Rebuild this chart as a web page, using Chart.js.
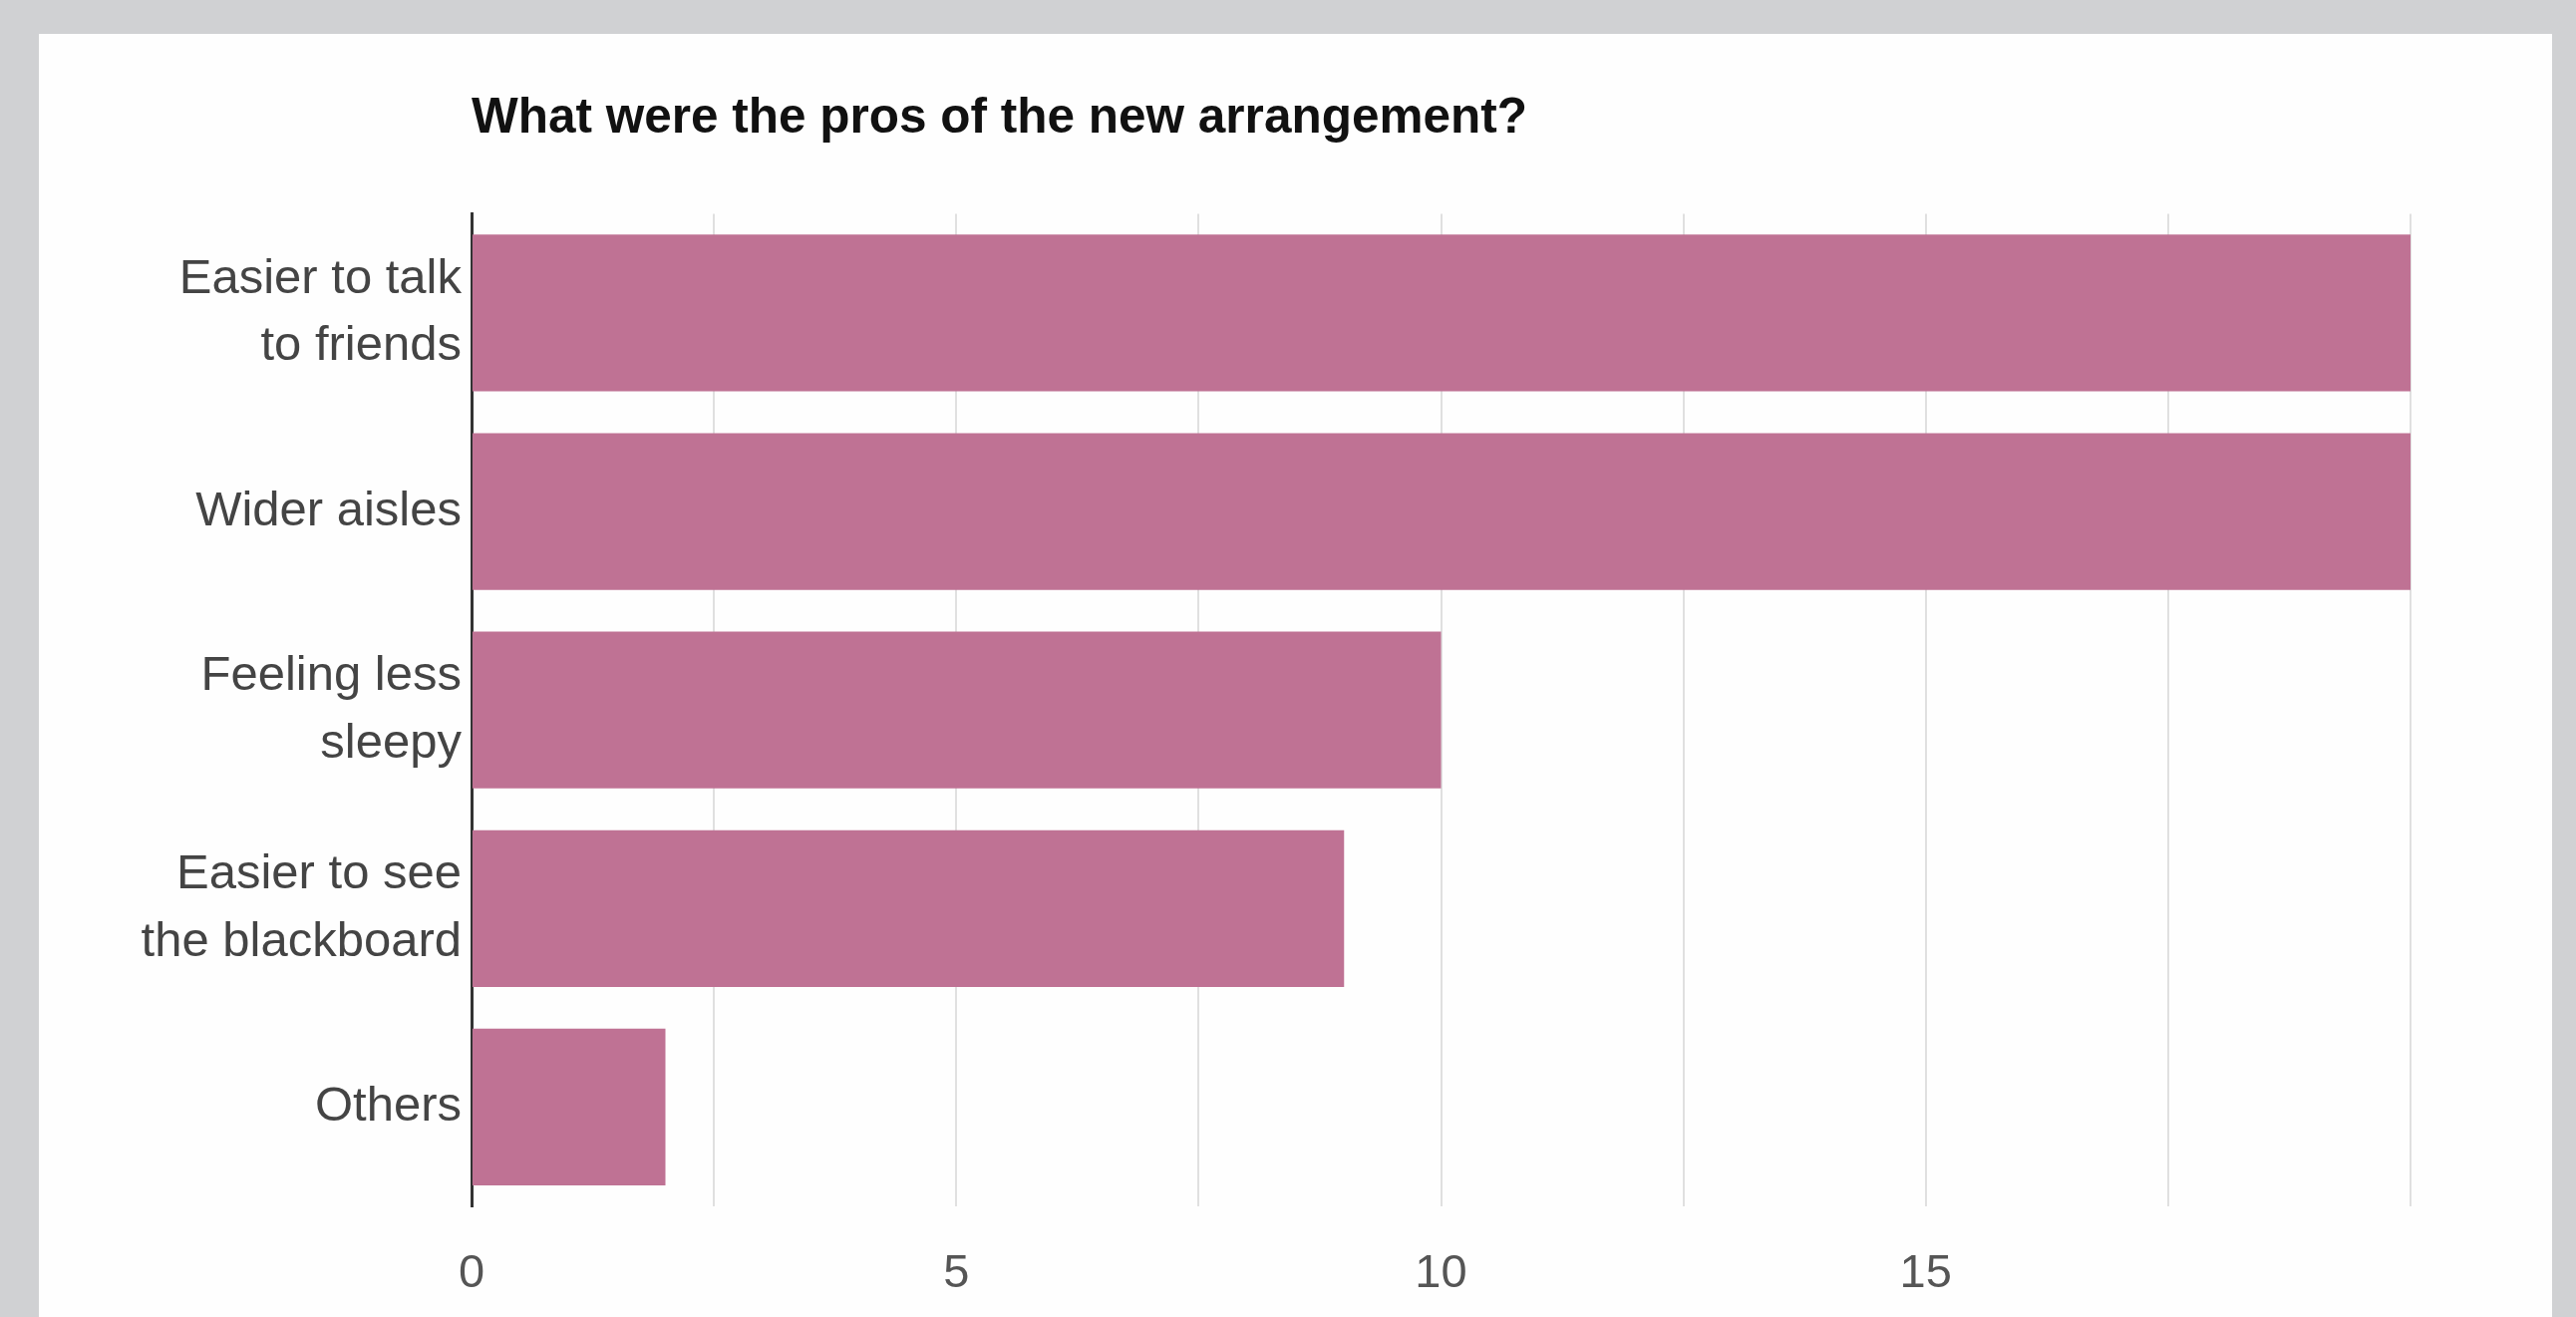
<!DOCTYPE html>
<html>
<head>
<meta charset="utf-8">
<title>Pros of the new arrangement</title>
<script src="https://cdn.jsdelivr.net/npm/chart.js@4/dist/chart.umd.min.js"></script>
<style>
    html, body {
        margin: 0;
        padding: 0;
        width: 2584px;
        height: 1321px;
        overflow: hidden;
        background: #d0d1d3;
    }
    .card {
        position: absolute;
        left: 39px;
        top: 34px;
        width: 2521px;
        height: 1287px;
        background: #fefefe;
    }
    #pros-chart {
        position: absolute;
        left: 0;
        top: 0;
    }
</style>
</head>
<body>
<div class="card"></div>
<canvas id="pros-chart" width="2584" height="1321"></canvas>

<script>
const chartTitle = "What were the pros of the new arrangement?";
const categories = [
    ["Easier to talk", "to friends"],
    "Wider aisles",
    ["Feeling less", "sleepy"],
    ["Easier to see", "the blackboard"],
    "Others"
];
const answerCounts = [20, 20, 10, 9, 2];
const labeledTicks = [0, 5, 10, 15];

const FONT = "'Liberation Sans', Arial, Helvetica, sans-serif";
const BAR_COLOR = "#bf7294";

const ctx = document.getElementById("pros-chart");

new Chart(ctx, {
    type: "bar",
    data: {
        labels: categories,
        datasets: [{
            data: answerCounts,
            backgroundColor: BAR_COLOR,
            borderWidth: 0,
            barPercentage: 0.79,
            categoryPercentage: 1.0
        }]
    },
    options: {
        indexAxis: "y",
        responsive: false,
        animation: false,
        layout: {
            padding: {left: 0, right: 166, top: 0, bottom: 0}
        },
        plugins: {
            legend: {display: false},
            tooltip: {enabled: false},
            title: {
                display: true,
                text: chartTitle,
                align: "start",
                fullSize: false,
                color: "#111111",
                font: {family: FONT, size: 49.5, weight: "bold", lineHeight: 1.2},
                padding: {top: 90, bottom: 65}
            }
        },
        scales: {
            x: {
                min: 0,
                max: 20,
                afterFit: (scale) => { scale.height = 111; },
                border: {display: false},
                grid: {
                    drawTicks: false,
                    lineWidth: 2,
                    color: (c) => c.tick && c.tick.value === 0 ? "#333333" : "#e0e0e0"
                },
                ticks: {
                    stepSize: 2.5,
                    autoSkip: false,
                    maxRotation: 0,
                    padding: 40,
                    color: "#555555",
                    font: {family: FONT, size: 47, lineHeight: 1.2},
                    callback: (value) => labeledTicks.includes(value) ? String(value) : ""
                }
            },
            y: {
                afterFit: (scale) => { scale.width = 473; },
                border: {display: true, color: "#333333", width: 3},
                grid: {display: false, drawTicks: false},
                ticks: {
                    padding: 10,
                    color: "#444444",
                    font: {family: FONT, size: 49, lineHeight: 1.38}
                }
            }
        }
    }
});
</script>
</body>
</html>
